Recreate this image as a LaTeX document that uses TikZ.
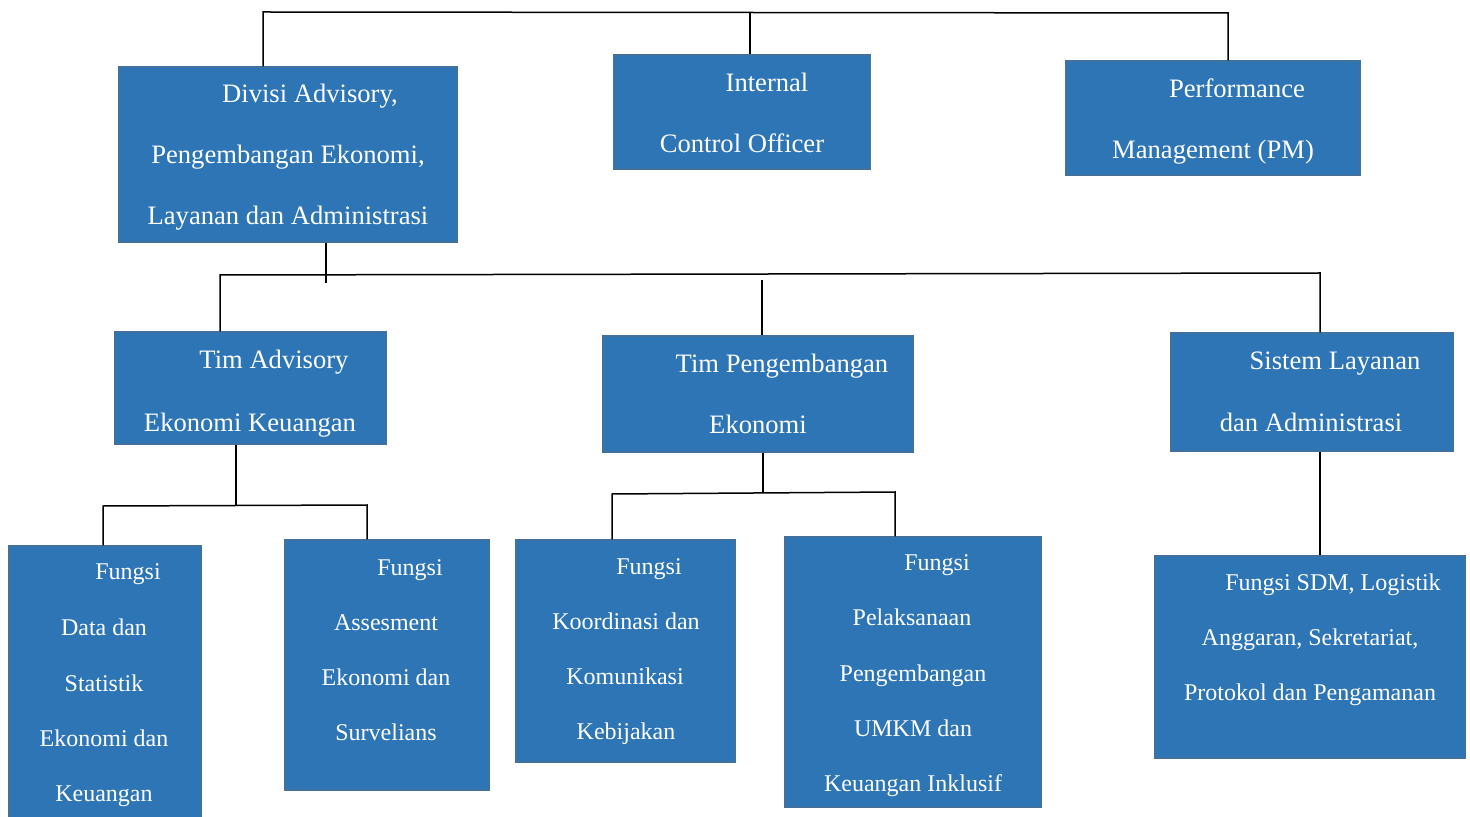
\documentclass[tikz,border=0pt]{standalone}
\usepackage{fontspec}
\setmainfont{Liberation Serif}
\usetikzlibrary{fit}
\definecolor{boxblue}{RGB}{46,117,182}
\definecolor{boxedge}{RGB}{65,113,156}
\begin{document}
\begin{tikzpicture}[x=0.5pt,y=-0.5pt,
  box/.style={fill=boxblue, draw=boxedge, line width=0.6pt, inner sep=0pt, rectangle},
  big/.style={anchor=base, text=white, inner sep=0pt, font=\fontsize{13.3}{15}\selectfont},
  small/.style={anchor=base, text=white, inner sep=0pt, font=\fontsize{12}{14}\selectfont},
  conn/.style={draw=black, line width=0.75pt}]
\useasboundingbox (0,0) rectangle (1470,817);

% ---- boxes ----
\node[box, fit={(119,67) (457,242)}] (div) {};
\node[box, fit={(614,55) (870,169)}] (ico) {};
\node[box, fit={(1066,61) (1360,175)}] (perf) {};
\node[box, fit={(115,332) (386,444)}] (tadv) {};
\node[box, fit={(603,336) (913,452)}] (tpe) {};
\node[box, fit={(1171,333) (1453,451)}] (sis) {};
\node[box, fit={(9,546) (201,820)}] (fdata) {};
\node[box, fit={(285,540) (489,790)}] (fass) {};
\node[box, fit={(516,540) (735,762)}] (fkoo) {};
\node[box, fit={(785,537) (1041,807)}] (fpel) {};
\node[box, fit={(1155,556) (1465,758)}] (fsdm) {};

% ---- texts ----
\node[big] (div1) at (310,103) {Divisi Advisory,};
\node[big] (div2) at (288,164) {Pengembangan Ekonomi,};
\node[big] (div3) at (288,225) {Layanan dan Administrasi};
\node[big] (ico1) at (767,92) {Internal};
\node[big] (ico2) at (742,153) {Control Officer};
\node[big] (perf1) at (1237,98) {Performance};
\node[big] (perf2) at (1213,159) {Management (PM)};
\node[big] (tadv1) at (274,369) {Tim Advisory};
\node[big] (tadv2) at (250,431) {Ekonomi Keuangan};
\node[big] (tpe1) at (782,373) {Tim Pengembangan};
\node[big] (tpe2) at (758,434) {Ekonomi};
\node[big] (sis1) at (1335,370) {Sistem Layanan};
\node[big] (sis2) at (1311,431) {dan Administrasi};

\node[small] (fd1) at (128,579) {Fungsi};
\node[small] (fd2) at (104,635) {Data dan};
\node[small] (fd3) at (104,691) {Statistik};
\node[small] (fd4) at (104,746) {Ekonomi dan};
\node[small] (fd5) at (104,801) {Keuangan};

\node[small] (fa1) at (410,575) {Fungsi};
\node[small] (fa2) at (386,630) {Assesment};
\node[small] (fa3) at (386,685) {Ekonomi dan};
\node[small] (fa4) at (386,740) {Survelians};

\node[small] (fk1) at (649,574) {Fungsi};
\node[small] (fk2) at (626,629) {Koordinasi dan};
\node[small] (fk3) at (625,684) {Komunikasi};
\node[small] (fk4) at (626,739) {Kebijakan};

\node[small] (fp1) at (937,570) {Fungsi};
\node[small] (fp2) at (912,625) {Pelaksanaan};
\node[small] (fp3) at (913,681) {Pengembangan};
\node[small] (fp4) at (913,736) {UMKM dan};
\node[small] (fp5) at (913,791) {Keuangan Inklusif};

\node[small] (fs1) at (1333,590) {Fungsi SDM, Logistik};
\node[small] (fs2) at (1310,645) {Anggaran, Sekretariat,};
\node[small] (fs3) at (1310,700) {Protokol dan Pengamanan};

% ---- connectors ----
\coordinate (topL) at (263,12);
\coordinate (topM) at (750,12);
\coordinate (topR) at (1228,13);
\draw[conn] (div.north -| topL) -- (topL) -- (topR) -- (topR |- perf.north);
\draw[conn] (topM) -- (topM |- ico.north);

\coordinate (b2end) at (326,283);
\draw[conn] (div.south -| b2end) -- (b2end);
\coordinate (b2L) at (220,275);
\coordinate (b2R) at (1320,273);
\coordinate (b2M) at (762,280);
\draw[conn] (b2L |- tadv.north) -- (b2L) -- (b2R) -- (b2R |- sis.north);
\draw[conn] (b2M) -- (b2M |- tpe.north);

\coordinate (b3) at (236,505);
\coordinate (b3L) at (103,506);
\coordinate (b3R) at (367,505);
\draw[conn] (tadv.south -| b3) -- (b3);
\draw[conn] (b3L |- fdata.north) -- (b3L) -- (b3R) -- (b3R |- fass.north);

\coordinate (b4) at (763,493);
\coordinate (b4L) at (612,494);
\coordinate (b4R) at (895,492);
\draw[conn] (tpe.south -| b4) -- (b4);
\draw[conn] (b4L |- fkoo.north) -- (b4L) -- (b4R) -- (b4R |- fpel.north);

\coordinate (b5) at (1320,500);
\draw[conn] (sis.south -| b5) -- (b5 |- fsdm.north);
\end{tikzpicture}
\end{document}
